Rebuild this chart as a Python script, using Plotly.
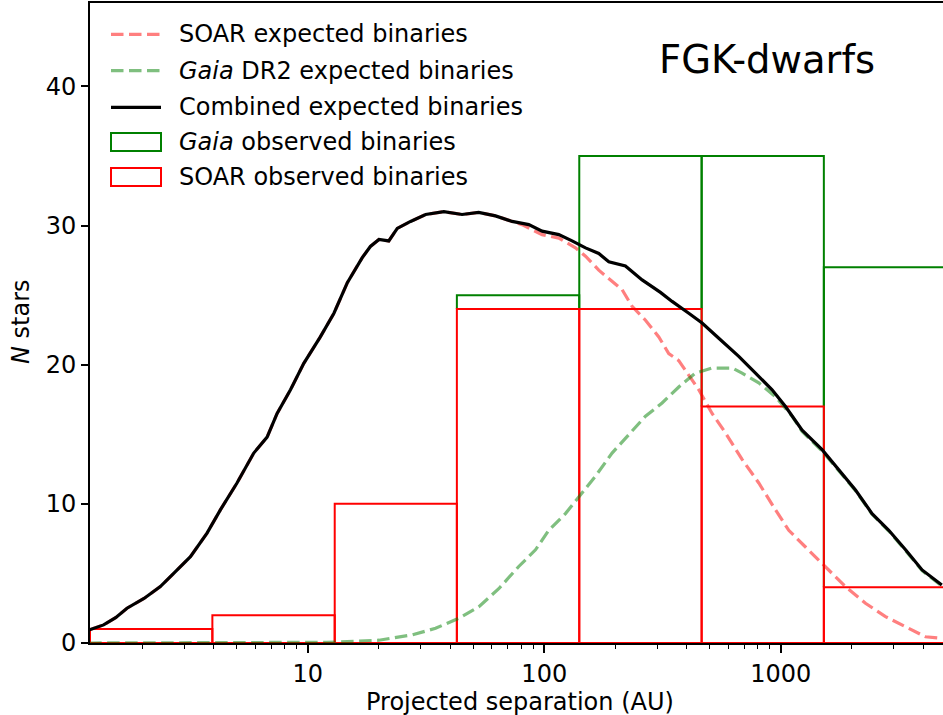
import math
import plotly.graph_objects as go

# ---------------- data ----------------
# histogram (observed binaries)
bin_edges = [1.2, 3.95, 13.0, 42.7, 140.6, 462.8, 1521, 5000]
soar_observed = [1, 2, 10, 24, 24, 17, 4]
gaia_observed = [0, 0, 0, 25, 35, 35, 27]

# combined expected binaries (black)
combined_sep = [1.19, 1.37, 1.54, 1.72, 2.03, 2.38, 2.71, 3.19, 3.75, 4.27, 5.02, 5.91,
                6.73, 7.42, 8.45, 9.62, 11.3, 12.9, 14.7, 17.0, 18.4, 20.0, 22.0, 23.9,
                27.2, 31.5, 37.6, 44.9, 52.8, 62.2, 73.1, 86.0, 97.9, 115.2, 131.1, 149.4,
                170.0, 187.4, 220.4, 259.2, 309.9, 347.1, 408.3, 464.8, 546.9, 664.3, 781.7,
                918.9, 1047, 1231, 1495, 1759, 2070, 2432, 2862, 3369, 3959, 4796]
combined_n = [0.94, 1.3, 1.82, 2.5, 3.2, 4.05, 5.0, 6.2, 7.9, 9.57, 11.5, 13.65,
              14.8, 16.5, 18.2, 20.1, 22.0, 23.7, 25.9, 27.7, 28.5, 29.0, 28.9, 29.8,
              30.3, 30.8, 31.0, 30.8, 30.95, 30.7, 30.3, 30.07, 29.6, 29.35, 28.9, 28.4,
              28.0, 27.4, 27.1, 26.1, 25.2, 24.55, 23.7, 23.0, 21.9, 20.6, 19.4,
              18.2, 17.0, 15.3, 13.9, 12.45, 11.0, 9.3, 8.1, 6.7, 5.25, 4.17]

# SOAR expected binaries (salmon dashed)
soar_sep = [1.19, 1.37, 1.54, 1.72, 2.03, 2.38, 2.71, 3.19, 3.75, 4.27, 5.02, 5.91,
            6.73, 7.42, 8.45, 9.62, 11.3, 12.9, 14.7, 17.0, 18.4, 20.0, 22.0, 23.9,
            27.2, 31.5, 37.6, 44.9, 52.8, 62.2, 73.1, 80.5, 97.9, 115.2, 135.5, 149.4,
            170.0, 193.5, 213.3, 235.1, 267.9, 304.9, 336.0, 370.4, 450.1, 512.3, 583.7,
            686.1, 807.2, 949.8, 1081, 1272, 1545, 1877, 2281, 2772, 3369, 4091, 4796]
soar_n = [0.94, 1.3, 1.82, 2.5, 3.2, 4.05, 5.0, 6.2, 7.9, 9.57, 11.5, 13.65,
          14.8, 16.5, 18.2, 20.1, 22.0, 23.7, 25.9, 27.7, 28.5, 29.0, 28.9, 29.8,
          30.3, 30.8, 31.0, 30.8, 30.95, 30.7, 30.3, 30.07, 29.35, 29.1, 28.4, 27.8,
          26.8, 26.0, 25.4, 24.2, 23.2, 22.0, 20.8, 20.3, 18.2, 16.5, 15.1,
          13.2, 11.5, 9.57, 8.1, 6.9, 5.5, 4.05, 2.86, 1.9, 1.17, 0.45, 0.34]

# Gaia DR2 expected binaries (green dashed)
gaia_sep = [1.19, 3.0, 8.0, 12.0, 13.5, 16.4, 20.0, 27.6, 34.7, 43.5, 52.8, 64.2, 78.0,
            91.8, 104.5, 122.9, 139.9, 164.7, 193.5, 220.4, 267.9, 314.9, 370.4, 435.8,
            512.3, 623.5, 686.1, 807.2, 949.8, 1116, 1231, 1495, 1759, 2070, 2432, 2862,
            3369, 3959, 4796]
gaia_n = [0.0, 0.0, 0.01, 0.05, 0.08, 0.12, 0.2, 0.58, 1.06, 1.78, 2.6, 3.9, 5.5,
          6.7, 8.1, 9.3, 10.5, 12.0, 13.65, 14.7, 16.3, 17.25, 18.4, 19.4,
          19.76, 19.76, 19.4, 18.7, 17.7, 16.3, 15.2, 13.8, 12.4, 10.95, 9.25, 8.05,
          6.65, 5.2, 4.1]

x_ticks = [10, 100, 1000]
x_tick_labels = ["10", "100", "1000"]
y_ticks = [0, 10, 20, 30, 40]

legend_labels = ["SOAR expected binaries", "<i>Gaia</i> DR2 expected binaries",
                 "Combined expected binaries", "<i>Gaia</i> observed binaries",
                 "SOAR observed binaries"]

# ---------------- styling ----------------
W, H = 943, 715
L, R, T, B = 90, 0, 3, 72
PW, PH = W - L - R, H - T - B
FONT = "DejaVu Sans"
FS = 24
RED = "#ff0000"
GREEN = "#008000"
SALMON = "rgba(255,0,0,0.5)"
LGREEN = "rgba(0,128,0,0.5)"
DASH = "12.5px,5.5px"
LW = 3.2


def px(x):
    return (x - L) / PW


def py(y):
    return (H - B - y) / PH


def outline(edges, counts, floor=None):
    # bar outlines; with 'floor' (heights of bars drawn on top) only the part above is drawn
    xs, ys = [], []
    for i, c in enumerate(counts):
        base = 0 if floor is None else floor[i]
        if c <= base:
            continue
        x0, x1 = edges[i], edges[i + 1]
        if floor is None:
            xs += [x0, x0, x1, x1, x0, None]
            ys += [base, c, c, base, base, None]
        else:
            xs += [x0, x0, x1, x1, None]
            ys += [base, c, c, base, None]
    return xs, ys


fig = go.Figure()
gx, gy = outline(bin_edges, gaia_observed, floor=soar_observed)
fig.add_trace(go.Scatter(x=gx, y=gy, mode="lines", line=dict(color=GREEN, width=2, simplify=False),
                         showlegend=False, hoverinfo="skip"))
rx, ry = outline(bin_edges, soar_observed)
fig.add_trace(go.Scatter(x=rx, y=ry, mode="lines", line=dict(color=RED, width=2, simplify=False),
                         showlegend=False, hoverinfo="skip"))
fig.add_trace(go.Scatter(x=soar_sep, y=soar_n, mode="lines",
                         line=dict(color=SALMON, width=LW, dash=DASH), showlegend=False))
fig.add_trace(go.Scatter(x=gaia_sep, y=gaia_n, mode="lines",
                         line=dict(color=LGREEN, width=LW, dash=DASH), showlegend=False))
fig.add_trace(go.Scatter(x=combined_sep, y=combined_n, mode="lines",
                         line=dict(color="black", width=LW), showlegend=False))

minor_vals = [m * 10 ** k for k in range(0, 4) for m in range(2, 10)]

x_lo = math.log10(bin_edges[0])
x_hi = x_lo + PW / 236.5

fig.update_layout(
    width=W, height=H,
    margin=dict(l=L, r=R, t=T, b=B, pad=0),
    paper_bgcolor="white", plot_bgcolor="white",
    font=dict(family=FONT, size=FS, color="black"),
    showlegend=False,
    xaxis=dict(type="log", range=[x_lo, x_hi], showgrid=False, zeroline=False,
               showline=True, linecolor="black", linewidth=1.8, mirror=True,
               ticks="outside", ticklen=8, tickwidth=1.5, tickcolor="black",
               tickmode="array", tickvals=x_ticks, ticktext=x_tick_labels,
               tickfont=dict(family=FONT, size=FS, color="black"),
               minor=dict(tickmode="array", tickvals=minor_vals, ticks="outside",
                          ticklen=4, tickwidth=1.2, tickcolor="black", showgrid=False)),
    yaxis=dict(range=[0, 46], showgrid=False, zeroline=False,
               showline=True, linecolor="black", linewidth=1.8, mirror=False,
               ticks="outside", ticklen=7, tickwidth=1.5, tickcolor="black",
               tickmode="array", tickvals=y_ticks,
               tickfont=dict(family=FONT, size=FS, color="black")),
)

ann = []
# axis titles
ann.append(dict(text="Projected separation (AU)", xref="paper", yref="paper",
                x=px(520), y=py(702), xanchor="center", yanchor="middle", showarrow=False,
                font=dict(family=FONT, size=FS, color="black")))
ann.append(dict(text="<i>N</i> stars", xref="paper", yref="paper", textangle=-90,
                x=px(21), y=py(322), xanchor="center", yanchor="middle", showarrow=False,
                font=dict(family=FONT, size=FS, color="black")))
# panel label
ann.append(dict(text="FGK-dwarfs", xref="paper", yref="paper", x=px(767), y=py(59.5),
                xanchor="center", yanchor="middle", showarrow=False,
                font=dict(family=FONT, size=38.5, color="black")))

# legend
row_y = [34.5, 71, 107, 142, 177]
for lab, yy in zip(legend_labels, row_y):
    ann.append(dict(text=lab, xref="paper", yref="paper", x=px(177), y=py(yy),
                    xanchor="left", yanchor="middle", showarrow=False,
                    font=dict(family=FONT, size=FS, color="black")))
fig.update_layout(annotations=ann)

shapes = [
    dict(type="line", xref="paper", yref="paper", x0=px(111), x1=px(161), y0=py(34.3), y1=py(34.3),
         line=dict(color=SALMON, width=LW, dash=DASH)),
    dict(type="line", xref="paper", yref="paper", x0=px(111), x1=px(161), y0=py(70.7), y1=py(70.7),
         line=dict(color=LGREEN, width=LW, dash=DASH)),
    dict(type="line", xref="paper", yref="paper", x0=px(111), x1=px(161), y0=py(107.3), y1=py(107.3),
         line=dict(color="black", width=LW)),
    dict(type="rect", xref="paper", yref="paper", x0=px(111), x1=px(161), y0=py(133), y1=py(151),
         line=dict(color=GREEN, width=2), fillcolor="rgba(0,0,0,0)"),
    dict(type="rect", xref="paper", yref="paper", x0=px(111), x1=px(161), y0=py(168), y1=py(186),
         line=dict(color=RED, width=2), fillcolor="rgba(0,0,0,0)"),
]
fig.update_layout(shapes=shapes)

post = """
document.body.style.margin='0px';
document.body.style.overflow='hidden';
"""

fig.write_html("out.html", config={"displayModeBar": False}, post_script=post)
